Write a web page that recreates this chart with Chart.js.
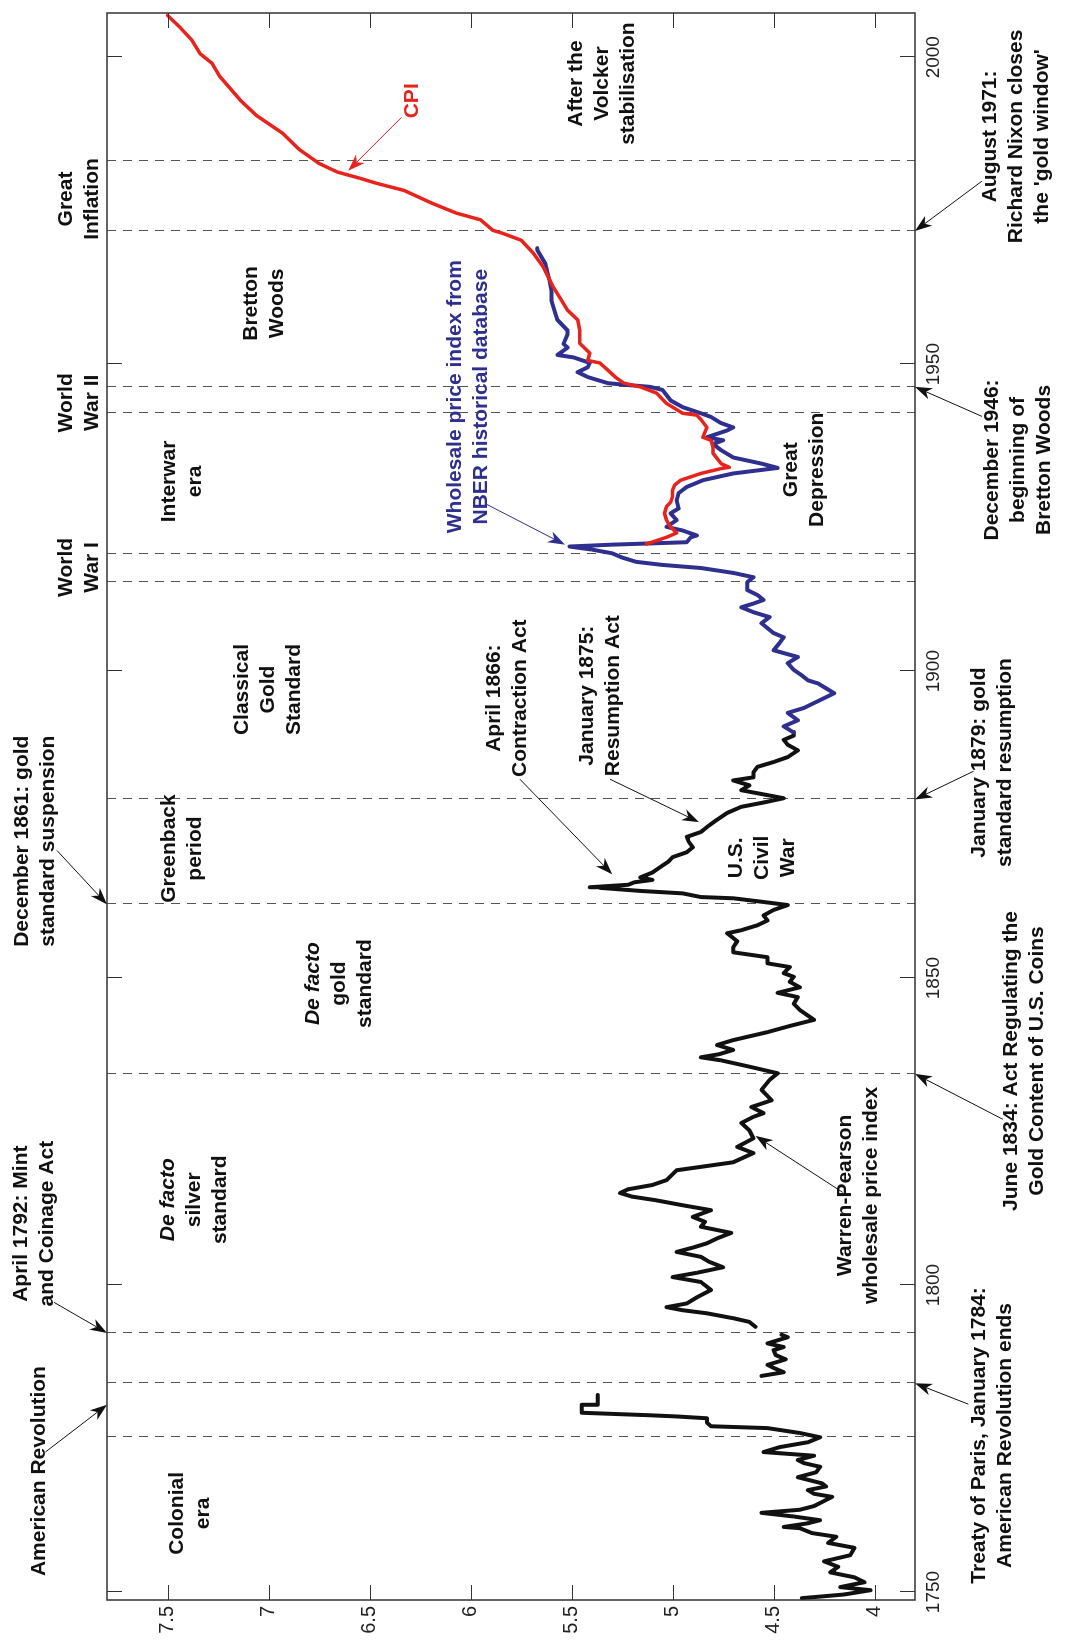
<!DOCTYPE html>
<html>
<head>
<meta charset="utf-8">
<title>US price level 1749-2007</title>
<script src="https://cdn.jsdelivr.net/npm/chart.js@4.4.1/dist/chart.umd.min.js"></script>
<style>
  html, body { margin: 0; padding: 0; width: 1065px; height: 1641px; overflow: hidden; background: #fff; }
  /* the figure is a landscape chart turned a quarter turn to the left */
  #wrap { position: absolute; left: 0; top: 0; width: 1641px; height: 1065px;
          transform-origin: 0 0; transform: translateY(1641px) rotate(-90deg); }
</style>
</head>
<body>
<div id="wrap"><canvas id="prices" width="1641" height="1065"></canvas></div>
<script>
// log price level
const wpYears = [
  1749.0, 1749.6, 1750.3, 1750.8, 1751.6, 1752.4, 1753.2, 1754.1, 1755.0, 1756.0,
  1757.2, 1758.0, 1759.0, 1759.6, 1760.4, 1760.6, 1761.2, 1761.7, 1762.3, 1762.9,
  1763.4, 1764.0, 1764.5, 1765.5, 1766.0, 1766.6, 1767.2, 1767.7, 1768.7, 1769.5,
  1770.4, 1771.0, 1771.5, 1772.2, 1772.8, 1773.6, 1774.4, 1775.2, 1775.9, 1776.7,
  1777.0, 1777.6, 1778.3, 1778.6, 1778.8, 1779.2, 1780.5, 1780.5, 1782.1, 1783.5,
  1785.2, 1785.8, 1786.5, 1787.0, 1787.9, 1788.6, 1789.4, 1789.9, 1790.5, 1791.5,
  1791.9, 1792.6, 1793.2, 1794.0, 1794.6, 1795.4, 1795.9, 1796.4, 1797.0, 1798.0,
  1799.2, 1800.5, 1801.3, 1802.0, 1802.9, 1803.8, 1804.6, 1805.4, 1806.1, 1806.8,
  1807.6, 1808.5, 1809.5, 1810.3, 1811.1, 1812.2, 1813.0, 1813.8, 1814.4, 1815.0,
  1815.6, 1816.3, 1817.1, 1818.7, 1819.3, 1820.0, 1821.5, 1822.5, 1823.9, 1825.2,
  1826.4, 1827.4, 1828.0, 1829.0, 1830.1, 1831.8, 1833.4, 1834.5, 1835.5, 1836.6,
  1837.1, 1837.6, 1838.3, 1839.1, 1839.9, 1841.2, 1842.2, 1843.2, 1844.8, 1845.8,
  1846.9, 1847.6, 1848.5, 1849.4, 1850.2, 1850.8, 1851.8, 1852.4, 1853.4, 1854.2,
  1855.0, 1856.0, 1857.3, 1857.8, 1858.6, 1859.4, 1860.2, 1861.1, 1861.9, 1862.4,
  1863.0, 1863.2, 1863.8, 1864.2, 1864.7, 1864.8, 1865.2, 1865.6, 1866.0, 1866.4,
  1867.2, 1868.1, 1869.0, 1869.7, 1870.5, 1871.3, 1872.2, 1873.0, 1873.8, 1874.6,
  1875.8, 1876.9, 1877.9, 1878.6, 1879.3, 1879.8, 1880.6, 1881.4, 1882.2, 1882.7,
  1883.5, 1884.4, 1885.2, 1886.0, 1887.1, 1888.0, 1888.8, 1889.5, 1890.1
];
const wpLog = [
  4.36, 4.15, 4.02, 4.17, 4.05, 4.10, 4.22, 4.18, 4.25, 4.12,
  4.10, 4.23, 4.19, 4.31, 4.37, 4.45, 4.33, 4.27, 4.40, 4.56,
  4.37, 4.30, 4.27, 4.21, 4.30, 4.33, 4.24, 4.26, 4.38, 4.29,
  4.27, 4.35, 4.38, 4.30, 4.55, 4.47, 4.33, 4.27, 4.37, 4.53,
  4.81, 4.83, 4.83, 4.98, 5.12, 5.45, 5.45, 5.37, 5.37, null,
  4.56, 4.45, 4.50, 4.53, 4.44, 4.49, 4.50, 4.45, 4.53, 4.43,
  4.46, null, 4.59, 4.62, 4.70, 4.83, 4.95, 5.03, 4.93, 4.88,
  4.81, 4.86, 5.00, 4.88, 4.75, 4.82, 4.86, 4.98, 4.90, 4.83,
  4.78, 4.71, 4.86, 4.84, 4.90, 4.81, 4.95, 5.08, 5.20, 5.26,
  5.22, 5.10, 5.03, 4.98, 4.85, 4.70, 4.60, 4.68, 4.60, 4.62,
  4.66, 4.60, 4.55, 4.61, 4.51, 4.56, 4.52, 4.48, 4.61, 4.76,
  4.86, 4.77, 4.70, 4.78, 4.70, 4.53, 4.42, 4.30, 4.37, 4.40,
  4.38, 4.48, 4.37, 4.42, 4.40, 4.45, 4.42, 4.53, 4.53, 4.70,
  4.70, 4.68, 4.73, 4.66, 4.58, 4.53, 4.55, 4.50, 4.43, 4.55,
  4.70, 4.86, 4.95, 5.16, 5.36, 5.41, 5.22, 5.19, 5.10, 5.16,
  5.10, 5.06, 5.02, 5.00, 4.93, 4.90, 4.92, 4.93, 4.86, 4.83,
  4.78, 4.73, 4.66, 4.55, 4.45, 4.53, 4.66, 4.62, 4.70, 4.60,
  4.60, 4.58, 4.50, 4.43, 4.38, 4.43, 4.45, 4.40, 4.40
];

const nberYears = [
  1890.0, 1891.0, 1892.0, 1893.2, 1894.0, 1894.8, 1895.6, 1896.4, 1897.2, 1898.0,
  1898.5, 1899.3, 1900.2, 1901.3, 1902.3, 1903.4, 1904.6, 1905.5, 1906.2, 1907.8,
  1908.8, 1909.6, 1910.4, 1911.0, 1911.6, 1912.4, 1913.2, 1914.5, 1915.3, 1916.0,
  1916.8, 1917.3, 1917.8, 1918.5, 1919.2, 1919.8, 1920.3, 1920.6, 1921.0, 1921.8,
  1922.1, 1922.9, 1923.5, 1924.6, 1925.7, 1926.5, 1927.8, 1929.0, 1930.0, 1931.1,
  1932.2, 1933.1, 1933.8, 1934.8, 1936.0, 1937.0, 1937.6, 1938.1, 1939.2, 1939.7,
  1940.4, 1941.4, 1942.0, 1943.0, 1944.1, 1945.8, 1946.3, 1946.6, 1946.9, 1947.9,
  1948.7, 1949.5, 1950.2, 1951.1, 1951.5, 1952.7, 1953.3, 1954.9, 1955.5, 1957.2,
  1959.3, 1960.4, 1962.0, 1963.7, 1965.0, 1966.4, 1967.5, 1968.6, 1968.9
];
const nberLog = [
  4.40, 4.45, 4.38, 4.43, 4.35, 4.30, 4.25, 4.20, 4.24, 4.28,
  4.33, 4.36, 4.40, 4.43, 4.38, 4.50, 4.47, 4.45, 4.50, 4.56,
  4.52, 4.60, 4.66, 4.60, 4.55, 4.58, 4.63, 4.63, 4.60, 4.70,
  4.86, 5.05, 5.18, 5.25, 5.30, 5.40, 5.51, 5.30, 4.93, 4.91,
  4.88, 4.95, 5.03, 4.98, 5.01, 4.97, 4.98, 4.97, 4.93, 4.85,
  4.70, 4.48, 4.56, 4.70, 4.76, 4.80, 4.75, 4.83, 4.73, 4.70,
  4.76, 4.81, 4.86, 4.95, 5.01, 5.05, 5.11, 5.22, 5.32, 5.42,
  5.47, 5.42, 5.41, 5.49, 5.57, 5.52, 5.54, 5.52, 5.52, 5.57,
  5.59, 5.60, 5.60, 5.61, 5.62, 5.63, 5.65, 5.67, 5.67
];

const cpiYears = [
  1920.7, 1921.8, 1922.5, 1923.5, 1924.6, 1925.7, 1926.8, 1927.5, 1928.5, 1929.5,
  1930.3, 1931.1, 1932.2, 1933.0, 1933.2, 1933.8, 1935.5, 1936.5, 1937.6, 1938.1,
  1939.7, 1941.0, 1941.7, 1942.0, 1943.6, 1945.3, 1946.3, 1946.9, 1947.8, 1949.0,
  1950.2, 1950.6, 1951.8, 1953.4, 1955.5, 1957.2, 1958.8, 1960.4, 1962.5, 1965.8,
  1968.1, 1970.2, 1971.3, 1971.8, 1973.5, 1974.6, 1976.2, 1978.3, 1979.5, 1980.3,
  1981.3, 1982.7, 1985.0, 1987.6, 1990.5, 1993.0, 1996.8, 1999.0, 2000.6, 2002.8,
  2004.9, 2006.8
];
const cpiLog = [
  5.13, 5.03, 4.98, 5.01, 5.03, 5.04, 5.03, 5.01, 5.00, 5.00,
  4.99, 4.96, 4.86, 4.76, 4.72, 4.76, 4.80, 4.80, 4.81, 4.85,
  4.83, 4.86, 4.88, 4.95, 5.03, 5.08, 5.16, 5.24, 5.28, 5.32,
  5.36, 5.42, 5.41, 5.46, 5.46, 5.47, 5.52, 5.55, 5.59, 5.64,
  5.69, 5.75, 5.84, 5.89, 5.95, 6.07, 6.19, 6.33, 6.47, 6.55,
  6.66, 6.75, 6.85, 6.93, 7.06, 7.14, 7.24, 7.28, 7.34, 7.38,
  7.44, 7.50
];

const yearTicks = [1750, 1800, 1850, 1900, 1950, 2000];
const valueTicks = [4, 4.5, 5, 5.5, 6, 6.5, 7, 7.5];

// dates of the regime breaks (dashed lines)
const regimeBreaks = [1775.2, 1784.0, 1792.2, 1834.4, 1862.0, 1879.1,
                      1914.5, 1919.1, 1942.0, 1946.3, 1971.7, 1983.1];

const RED = "#e8231c";
const BLUE = "#2e2f8f";
const FONT = "'Liberation Sans', Arial, Helvetica, sans-serif";

// text notes, placed at (year, log level)
const notes = [
  { year: 1762.8, value: 7.39, lines: ["Colonial", "era"] },
  { year: 1813.9, value: 7.37, lines: [{ t: "De facto", it: true }, "silver", "standard"] },
  { year: 1849.1, value: 6.65, lines: [{ t: "De facto", it: true }, "gold", "standard"] },
  { year: 1871.1, value: 7.43, lines: ["Greenback", "period"] },
  { year: 1897.0, value: 7.00, lines: ["Classical", "Gold", "Standard"] },
  { year: 1916.9, value: 7.94, lines: ["World", "War I"] },
  { year: 1930.9, value: 7.43, lines: ["Interwar", "era"] },
  { year: 1943.7, value: 7.94, lines: ["World", "War II"] },
  { year: 1959.9, value: 7.02, lines: ["Bretton", "Woods"] },
  { year: 1976.9, value: 7.94, lines: ["Great", "Inflation"] },
  { year: 1995.7, value: 5.35, lines: ["After the", "Volcker", "stabilisation"] },
  { year: 1992.9, value: 6.29, lines: ["CPI"], color: RED },
  { year: 1944.7, value: 6.01, lines: ["Wholesale price index from", "NBER historical database"], color: BLUE },
  { year: 1932.8, value: 4.35, lines: ["Great", "Depression"] },
  { year: 1895.6, value: 5.82, lines: ["April 1866:", "Contraction Act"] },
  { year: 1896.0, value: 5.36, lines: ["January 1875:", "Resumption Act"] },
  { year: 1869.6, value: 4.555, lines: ["U.S.", "Civil", "War"] },
  { year: 1814.6, value: 4.08, lines: ["Warren-Pearson", "wholesale price index"] },
  { year: 1769.7, value: 8.136, lines: ["American Revolution"] },
  { year: 1810.0, value: 8.159, lines: ["April 1792: Mint", "and Coinage Act"] },
  { year: 1872.3, value: 8.154, lines: ["December 1861: gold", "standard suspension"] },
  { year: 1775.5, value: 3.42, lines: ["Treaty of Paris, January 1784:", "American Revolution ends"] },
  { year: 1836.5, value: 3.26, lines: ["June 1834: Act Regulating the", "Gold Content of U.S. Coins"] },
  { year: 1885.1, value: 3.42, lines: ["January 1879: gold", "standard resumption"] },
  { year: 1934.4, value: 3.29, lines: ["December 1946:", "beginning of", "Bretton Woods"] },
  { year: 1987.1, value: 3.30, lines: ["August 1971:", "Richard Nixon closes", "the 'gold window'"] }
];

const pointers = [
  { from: [1772.8, 8.105], to: [1780.5, 7.80] },
  { from: [1797.2, 8.063], to: [1792.2, 7.80] },
  { from: [1870.8, 8.048], to: [1862.0, 7.80] },
  { from: [1780.6, 3.536], to: [1784.0, 3.80] },
  { from: [1827.0, 3.365], to: [1834.4, 3.80] },
  { from: [1883.7, 3.510], to: [1879.1, 3.80] },
  { from: [1941.5, 3.469], to: [1946.3, 3.80] },
  { from: [1979.8, 3.469], to: [1971.7, 3.80] },
  { from: [1990.2, 6.342], to: [1981.5, 6.606], color: RED },
  { from: [1927.2, 5.922], to: [1920.6, 5.533], color: BLUE },
  { from: [1882.4, 5.756], to: [1866.9, 5.299] },
  { from: [1882.4, 5.310], to: [1875.4, 4.869] },
  { from: [1815.1, 4.158], to: [1824.3, 4.589] }
];

const pairs = (xs, ys) => xs.map((x, i) => ({ x: x, y: ys[i] }));

function drawArrow(ctx, x1, y1, x2, y2, color) {
  const a = Math.atan2(y2 - y1, x2 - x1);
  const ux = Math.cos(a), uy = Math.sin(a);
  const nx = -uy, ny = ux;
  const len = 17, half = 6, notch = 12;
  ctx.strokeStyle = color;
  ctx.fillStyle = color;
  ctx.lineWidth = 1;
  ctx.beginPath();
  ctx.moveTo(x1, y1);
  ctx.lineTo(x2 - ux * notch, y2 - uy * notch);
  ctx.stroke();
  const bx = x2 - ux * len, by = y2 - uy * len;
  ctx.beginPath();
  ctx.moveTo(x2, y2);
  ctx.lineTo(bx + nx * half, by + ny * half);
  ctx.lineTo(x2 - ux * notch, y2 - uy * notch);
  ctx.lineTo(bx - nx * half, by - ny * half);
  ctx.closePath();
  ctx.fill();
}

const decorations = {
  id: "decorations",
  beforeDatasetsDraw(chart) {
    const { ctx, chartArea: area, scales } = chart;
    ctx.save();
    ctx.strokeStyle = "#555";
    ctx.lineWidth = 1;
    ctx.setLineDash([9, 7]);
    regimeBreaks.forEach((yr) => {
      const px = Math.round(scales.x.getPixelForValue(yr)) + 0.5;
      ctx.beginPath();
      ctx.moveTo(px, area.top);
      ctx.lineTo(px, area.bottom);
      ctx.stroke();
    });
    ctx.restore();
  },
  afterDraw(chart) {
    const { ctx, chartArea: area, scales } = chart;
    const sx = scales.x, sy = scales.y;
    ctx.save();

    // box with inward ticks on every side
    ctx.strokeStyle = "#333";
    ctx.lineWidth = 1.5;
    ctx.strokeRect(area.left, area.top, area.right - area.left, area.bottom - area.top);
    ctx.lineWidth = 1;
    const tl = 15;
    yearTicks.forEach((yr) => {
      const px = Math.round(sx.getPixelForValue(yr)) + 0.5;
      ctx.beginPath();
      ctx.moveTo(px, area.bottom); ctx.lineTo(px, area.bottom - tl);
      ctx.moveTo(px, area.top); ctx.lineTo(px, area.top + tl);
      ctx.stroke();
    });
    valueTicks.forEach((v) => {
      const py = Math.round(sy.getPixelForValue(v)) + 0.5;
      ctx.beginPath();
      ctx.moveTo(area.left, py); ctx.lineTo(area.left + tl, py);
      ctx.moveTo(area.right, py); ctx.lineTo(area.right - tl, py);
      ctx.stroke();
    });

    // notes
    ctx.textAlign = "center";
    ctx.textBaseline = "middle";
    const lh = 26;
    notes.forEach((n) => {
      const cx = sx.getPixelForValue(n.year);
      const cy = sy.getPixelForValue(n.value);
      const top = cy - (lh * (n.lines.length - 1)) / 2;
      ctx.fillStyle = n.color || "#111";
      n.lines.forEach((ln, i) => {
        const t = typeof ln === "string" ? ln : ln.t;
        const it = typeof ln === "string" ? false : ln.it;
        ctx.font = (it ? "italic " : "") + "bold 21px " + FONT;
        ctx.fillText(t, cx, top + i * lh);
      });
    });

    pointers.forEach((p) => {
      drawArrow(ctx,
        sx.getPixelForValue(p.from[0]), sy.getPixelForValue(p.from[1]),
        sx.getPixelForValue(p.to[0]), sy.getPixelForValue(p.to[1]),
        p.color || "#111");
    });
    ctx.restore();
  }
};

new Chart(document.getElementById("prices"), {
  type: "line",
  data: {
    datasets: [
      {
        label: "CPI",
        data: pairs(cpiYears, cpiLog),
        borderColor: RED,
        borderWidth: 3.5,
        order: 0
      },
      {
        label: "NBER wholesale price index",
        data: pairs(nberYears, nberLog),
        borderColor: BLUE,
        borderWidth: 4,
        order: 1
      },
      {
        label: "Warren-Pearson wholesale price index",
        data: pairs(wpYears, wpLog),
        borderColor: "#111",
        borderWidth: 4,
        order: 2
      }
    ]
  },
  options: {
    responsive: false,
    animation: false,
    devicePixelRatio: 1,
    layout: { padding: { top: 107, right: 13, left: 0, bottom: 0 } },
    elements: {
      line: { tension: 0, borderJoinStyle: "round", borderCapStyle: "round" },
      point: { radius: 0, hoverRadius: 0 }
    },
    spanGaps: false,
    plugins: {
      legend: { display: false },
      tooltip: { enabled: false }
    },
    scales: {
      x: {
        type: "linear",
        position: "bottom",
        min: 1748.7,
        max: 2007.2,
        afterBuildTicks: (s) => { s.ticks = yearTicks.map((v) => ({ value: v })); },
        afterFit: (s) => { s.height = 150; },
        grid: { display: false, drawTicks: false },
        border: { display: false },
        ticks: {
          autoSkip: false,
          maxRotation: 0,
          padding: 7,
          color: "#222",
          font: { family: FONT, size: 19 },
          callback: (v) => String(v)
        }
      },
      y: {
        type: "linear",
        min: 3.8,
        max: 7.8,
        afterBuildTicks: (s) => { s.ticks = valueTicks.map((v) => ({ value: v })); },
        afterFit: (s) => { s.width = 41; },
        grid: { display: false, drawTicks: false },
        border: { display: false },
        ticks: {
          padding: 6,
          color: "#222",
          font: { family: FONT, size: 20 },
          callback: (v) => String(v)
        }
      }
    }
  },
  plugins: [decorations]
});
</script>
</body>
</html>
